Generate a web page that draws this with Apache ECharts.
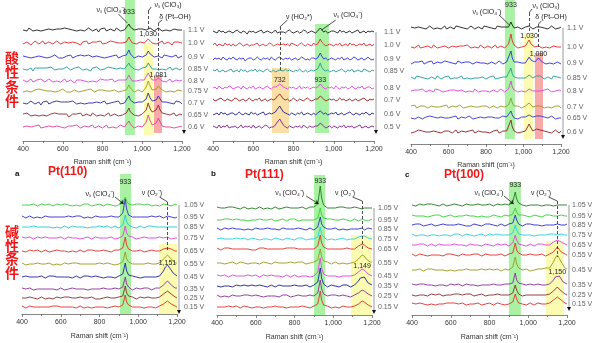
<!DOCTYPE html>
<html><head><meta charset="utf-8">
<script src="https://cdn.jsdelivr.net/npm/echarts@6/dist/echarts.min.js"></script>
<style>html,body{margin:0;padding:0;background:#fff}#c{width:600px;height:343px}</style>
</head><body><div id="c"></div><script>
// Raman shift sampling: 400–1200 cm-1 in 10 cm-1 steps; band centres replace the nearest sample.
const shiftStart = 400, shiftStep = 10, shiftCount = 81;
const xTicks = [400, 600, 800, 1000, 1200];

// ---------- Acidic, Pt(110) ----------
const acid110Potentials = ['1.1 V', '1.0 V', '0.9 V', '0.85 V', '0.8 V', '0.75 V', '0.7 V', '0.65 V', '0.6 V'];
const acid110Peaks = [933, 1030, 1081];
const acid110Spectra = [
  [0,1,-1,2,0,-1,1,0,2,-1, 1,0,-2,1,2,0,-1,1,0,1, -1,2,0,1,-1,0,2,-1,1,0, 1,-1,0,2,1,-1,0,1,-2,1, 0,2,-1,0,1,1,-1,2,0,-1, 1,0,1,6,3,1,0,-1,1,0, 1,-1,0,1,2,0,-1,1,2,0, -1,1,0,2,-1,0,1,-1,0,1, 0],
  [-1,0,1,1,-2,0,2,1,-1,0, 2,-1,0,1,0,-1,1,2,0,-1, 0,1,-1,0,2,1,-1,0,1,-2, 1,0,2,-1,0,1,-1,1,0,2, -1,1,0,-1,2,0,1,-1,0,1, 0,1,1,6,3,0,1,-1,0,1, -1,0,2,4,2,0,1,-1,0,1, 2,-1,0,1,0,-2,1,0,1,-1, 0],
  [1,-1,0,2,-1,1,0,-2,1,0, 0,2,-1,1,0,-1,2,0,-1,1, -1,0,1,0,2,-1,0,1,-1,2, 0,1,-1,2,0,0,-2,1,1,0, 2,-1,1,0,-1,1,0,2,-1,0, 1,0,2,7,3,1,-1,0,1,-1, 0,1,2,6,3,1,0,-1,1,0, -1,2,0,1,-1,0,1,2,-1,0, 1],
  [0,2,-1,0,1,-2,1,0,1,-1, 1,0,1,-1,2,0,-1,1,0,2, 0,-1,2,1,-1,0,1,-1,2,0, -1,1,0,1,-2,1,0,2,0,-1, 1,0,-1,2,0,1,-1,0,1,1, -1,0,1,6,3,1,0,1,-1,0, 1,-1,2,6,3,0,1,0,-1,1, 0,1,-1,0,2,-1,0,1,0,-1, 1],
  [1,0,-1,1,2,-1,0,1,-1,2, 0,-1,1,2,0,-1,1,0,2,-1, 1,2,-1,0,1,0,-2,1,0,1, -1,0,2,-1,1,0,1,-1,0,2, 0,1,-1,1,0,2,-1,0,1,-1, 1,-1,1,6,3,0,1,0,-1,1, 0,1,3,8,4,1,0,1,3,2, 0,1,-1,0,2,-1,0,1,-1,0, 1],
  [-1,1,0,2,-1,0,1,-1,2,0, 1,-1,0,1,0,2,-1,1,0,-1, 2,0,-1,1,-1,0,1,2,-1,0, 0,1,1,-1,2,0,-1,0,1,-1, 1,-1,0,2,0,-1,1,0,-1,1, 0,1,1,6,3,1,-1,0,1,0, -1,1,4,10,5,1,1,2,5,3, 1,0,-1,1,0,2,-1,0,1,-1, 0],
  [0,1,-1,0,2,1,-1,0,1,-2, 1,0,2,-1,0,1,-1,2,0,1, -1,1,0,1,-1,2,0,-1,1,0, 2,-1,1,0,-1,0,2,1,-1,0, 0,2,-1,1,0,-1,1,0,2,-1, 1,0,2,7,3,1,0,-1,1,0, 1,1,4,10,5,2,1,3,7,4, 1,0,1,-1,0,1,-1,2,0,1, -1],
  [1,-1,2,0,-1,1,0,1,-1,0, 0,2,-1,0,1,-1,2,0,1,-1, 1,0,1,-2,0,1,-1,1,0,2, -1,0,1,1,-1,2,0,-1,1,0, 1,-1,0,2,-1,0,1,1,-1,0, 0,1,2,7,3,1,0,1,-1,0, 1,2,5,12,6,3,2,5,10,5, 2,0,1,-1,0,1,2,-1,0,1, 0],
  [0,-1,1,2,0,-1,1,0,2,-1, 1,0,-1,1,2,0,-1,1,-1,0, 2,-1,0,1,0,1,-1,2,0,-1, 0,1,-1,0,1,2,-1,0,1,1, -1,0,2,-1,1,0,1,-1,0,2, 1,0,1,6,3,1,-1,0,1,0, 0,2,5,12,6,2,1,4,9,5, 1,-1,0,1,0,2,-1,1,0,-1, 1]
];
const acid110Colors = ['#1a1a1a', '#e8262a', '#2b2bd9', '#1f9a9a', '#e040e0', '#9a9a1a', '#2a2aa0', '#8b2a2a', '#e0409a'];

// ---------- Acidic, Pt(111) ----------
const acid111Potentials = ['1.1 V', '1.0 V', '0.9 V', '0.85 V', '0.8 V', '0.7 V', '0.6 V', '0.5 V'];
const acid111Peaks = [732, 933];
const acid111Spectra = [
  [1,0,-1,2,0,1,-1,0,1,0, -1,1,2,0,-1,1,0,-2,1,0, 1,-1,0,1,2,-1,0,1,0,-1, 0,2,-1,0,1,0,-1,1,2,0, -1,0,1,-1,0,2,1,-1,0,1, 0,-1,1,4,2,0,1,-1,0,1, 1,0,-1,2,0,1,-1,0,1,-1, 0,1,2,-1,0,1,-1,1,0,1, 0],
  [0,2,-1,1,0,-1,2,0,1,-1, 1,-1,0,2,1,-1,0,1,-1,0, 0,1,2,-1,0,1,-1,0,2,1, -1,0,1,0,-2,1,0,1,-1,2, 1,0,-1,1,2,0,-1,1,0,-1, 2,0,1,6,3,1,-1,0,1,0, -1,1,0,2,-1,0,1,-1,2,0, 1,-1,0,1,0,2,-1,0,1,-1, 1],
  [-1,1,0,1,-1,2,0,-1,1,0, 2,0,-1,1,0,1,-2,0,1,1, -1,0,2,0,-1,1,0,1,-1,2, 0,-1,1,2,0,-1,1,0,1,-1, 0,1,-1,0,2,1,-1,0,-1,1, 1,0,1,6,3,0,1,-1,0,1, 0,-1,1,0,2,-1,0,1,-1,0, 2,1,-1,0,1,-1,0,2,0,-1, 0],
  [1,0,2,-1,0,1,-1,0,1,2, -1,0,1,-1,2,0,1,-1,0,1, 0,2,-1,1,0,-1,1,2,0,-1, 1,-1,0,1,-1,0,2,0,1,0, -1,1,0,2,0,-1,1,-1,0,1, 0,1,2,8,4,1,0,1,-1,0, 1,-1,0,1,2,0,-1,1,0,2, -1,0,1,0,-1,2,1,0,-1,1, 0],
  [0,1,-1,2,0,-1,1,0,2,1, -1,0,1,1,-1,2,0,-1,1,0, 2,-1,0,1,0,-1,1,2,0,-1, 1,1,2,4,3,1,0,-1,1,0, 1,-1,0,2,-1,1,0,1,-1,0, 1,0,1,4,2,0,-1,1,0,1, -1,2,0,-1,1,0,1,-1,0,2, 0,-1,1,0,2,-1,0,1,1,-1, 0],
  [1,-1,0,1,2,0,-1,1,0,-1, 0,2,1,-1,0,1,-1,0,2,0, -1,1,0,2,-1,0,1,-1,0,1, 0,1,4,6,4,1,0,1,-1,0, 2,0,-1,1,0,-1,1,2,0,-1, 0,1,1,4,2,1,-1,0,1,0, 1,-1,0,2,0,1,-1,0,1,-1, 0,1,-1,0,1,2,0,-1,1,0, 1],
  [-1,0,1,-1,2,0,1,-1,0,1, 1,-1,0,2,0,-1,1,0,-1,2, 0,1,-1,0,1,2,-1,0,1,0, 1,2,5,8,5,2,1,0,-1,1, 0,-1,1,0,2,-1,0,1,0,-1, 1,-1,1,3,2,0,1,-1,0,1, 0,2,-1,0,1,-1,0,1,2,0, -1,1,0,-1,1,0,2,0,-1,1, 0],
  [1,0,-1,2,-1,1,0,2,-1,0, 0,1,-1,0,2,-1,1,0,1,-1, 2,-1,0,1,-1,0,2,1,-1,0, 0,2,5,8,5,2,0,-1,1,0, -1,1,0,1,-1,2,0,-1,1,0, 0,1,1,4,2,1,-1,0,1,-1, 1,0,-1,1,0,2,-1,1,0,1, -1,0,1,2,-1,0,1,-1,0,1, 0]
];
const acid111Colors = ['#1a1a1a', '#e8262a', '#2b2bd9', '#1f9a9a', '#e040e0', '#a01818', '#1c1c8c', '#7a1a8a'];

// ---------- Acidic, Pt(100) ----------
const acid100Potentials = ['1.1 V', '1.0 V', '0.9 V', '0.85 V', '0.8 V', '0.7 V', '0.65 V', '0.6 V'];
const acid100Peaks = [933, 1030, 1080];
const acid100Spectra = [
  [1,-1,0,2,1,-1,0,1,-1,0, 2,0,-1,1,0,1,-1,0,2,-1, 0,1,0,-1,2,0,1,-1,0,1, -1,0,2,1,-1,0,1,0,-1,2, 0,1,-1,0,1,-1,2,0,1,-1, 1,0,1,6,3,0,-1,1,0,-1, 0,1,0,2,1,-1,0,1,0,1, -1,0,1,-1,0,2,0,-1,1,0, 1],
  [0,1,-1,0,2,-1,1,0,-1,1, 1,-1,2,0,-1,1,0,-2,1,0, -1,0,1,2,0,-1,1,0,1,-1, 2,0,-1,1,0,1,-1,2,0,-1, 0,1,1,-1,0,2,-1,0,1,0, -1,1,3,13,6,2,0,-1,1,0, 1,1,3,7,3,1,0,-1,1,0, -1,1,0,2,-1,0,1,-1,0,1, 0],
  [-1,0,1,-1,1,0,2,-1,0,1, 0,2,-1,0,1,-1,0,1,2,0, 1,-1,0,1,-1,2,0,0,-1,1, 0,1,2,-1,0,1,-1,0,1,0, 2,-1,0,1,0,-1,1,2,0,-1, 0,1,3,12,5,1,0,1,-1,0, 1,0,2,6,3,1,1,3,5,3, 1,0,-1,1,0,1,-1,0,1,0, -1],
  [1,0,-1,2,0,1,-1,0,1,-1, 0,1,0,-1,2,1,-1,0,1,0, 2,-1,1,0,-1,0,1,2,-1,0, 0,1,-1,1,0,2,0,-1,1,1, -1,0,1,0,2,-1,1,0,-1,1, 0,1,2,10,4,1,-1,0,1,0, 1,0,1,3,2,0,1,2,4,2, 1,-1,0,1,0,-1,2,0,1,-1, 0],
  [0,-1,1,0,1,-1,2,0,-1,1, 1,0,-1,2,0,1,0,-1,1,0, -1,1,0,1,-1,0,2,1,0,-1, 1,0,1,-1,2,0,-1,1,0,1, 0,2,-1,0,1,0,-1,1,2,0, -1,0,2,10,4,1,0,-1,1,0, 1,-1,1,2,1,0,1,0,1,0, -1,1,0,2,0,-1,1,0,-1,1, 0],
  [1,0,2,-1,0,1,-1,1,0,-1, 0,1,-1,0,2,0,-1,1,0,2, -1,0,1,-1,0,1,2,0,-1,1, 0,-1,1,2,0,-1,0,1,1,-1, 1,0,-1,0,1,2,-1,0,1,0, 0,-1,2,9,4,1,0,1,0,-1, 0,1,2,4,2,0,1,1,2,1, 0,-1,1,0,2,-1,0,1,0,1, -1],
  [0,1,-1,0,1,2,-1,0,1,-1, 2,0,1,-1,0,-1,1,2,0,1, 0,-1,1,0,2,-1,0,1,-1,0, 1,2,0,-1,1,0,-1,1,2,0, -1,1,0,1,-1,0,1,0,-1,2, 0,1,2,7,3,0,1,-1,0,1, 0,1,1,3,2,1,1,2,4,2, 0,1,-1,0,1,2,0,-1,1,0, 0],
  [-1,1,0,-1,2,0,1,-1,0,1, 0,-1,1,1,0,2,-1,0,1,-1, 1,0,-1,0,2,-1,0,1,1,0, -1,1,0,2,-1,0,1,-1,0,2, 0,1,-1,0,1,0,2,-1,0,1, -1,1,3,12,5,1,0,-1,1,0, 0,1,3,8,4,1,1,3,5,2, 0,1,-1,0,1,-1,0,2,0,-1, 1]
];
const acid100Colors = ['#1a1a1a', '#e8262a', '#2b2bd9', '#1f9a9a', '#e040e0', '#9a9a1a', '#3434c8', '#8b2020'];

// ---------- Alkaline, Pt(110) ----------
const alk110Potentials = ['1.05 V', '0.95 V', '0.85 V', '0.75 V', '0.65 V', '0.55 V', '0.45 V', '0.35 V', '0.25 V', '0.15 V'];
const alk110Peaks = [933, 1151];
const alk110Spectra = [
  [0,1,0,-1,0,1,1,0,-1,0, 1,0,0,-1,1,0,-1,0,1,0, 0,-1,1,0,0,1,-1,0,0,1, -1,0,1,0,1,0,-1,1,0,0, 1,0,-1,0,1,0,0,1,-1,0, 0,0,2,8,4,1,0,0,-1,1, 0,1,-1,0,0,1,0,-1,1,0, 0,-1,0,1,0,0,1,-1,0,1, 0],
  [1,0,-1,0,1,0,-1,1,0,0, -1,0,1,1,0,-1,0,1,0,-1, 0,1,0,-1,1,0,0,-1,1,0, 1,0,-1,0,0,1,-1,0,1,0, 0,-1,0,1,0,-1,1,0,0,1, 0,1,4,18,8,2,1,0,-1,0, 1,0,-1,0,1,0,0,1,-1,0, 0,1,0,-1,0,1,0,0,1,-1, 0],
  [0,-1,0,1,0,0,1,-1,0,1, 0,1,0,-1,0,1,-1,0,0,1, -1,0,1,0,-1,0,1,1,0,-1, 0,1,0,0,-1,1,0,-1,0,1, 1,0,0,-1,1,0,-1,0,1,0, -1,1,2,12,5,2,1,0,0,-1, 0,1,0,-1,0,1,0,1,-1,0, 1,0,-1,0,1,0,-1,0,1,0, 0],
  [1,0,0,-1,1,0,-1,0,1,0, 0,-1,1,0,0,1,0,-1,0,1, 1,0,-1,0,1,-1,0,1,0,0, -1,1,0,0,1,0,-1,0,1,-1, 0,1,0,-1,0,1,1,0,-1,0, 0,1,2,12,5,2,0,1,0,-1, 1,0,0,1,-1,0,1,0,-1,0, 0,1,-1,0,0,1,0,-1,1,0, 0],
  [0,1,-1,0,1,0,0,-1,1,0, -1,0,1,0,-1,1,0,0,1,-1, 0,1,0,1,-1,0,0,1,-1,0, 1,0,-1,0,1,0,1,-1,0,0, 0,-1,1,0,0,1,-1,0,1,0, 1,1,3,14,6,2,1,0,-1,0, 0,1,0,-1,1,0,0,1,-1,0, 1,0,1,2,2,3,3,2,1,0, 0],
  [1,0,-1,0,0,1,0,-1,1,0, 0,1,0,-1,1,0,-1,0,0,1, -1,0,1,0,0,-1,1,0,1,0, 0,-1,0,1,0,1,0,-1,0,1, 1,0,0,-1,1,0,0,1,-1,0, 0,1,2,12,5,2,1,0,1,0, -1,0,1,0,0,1,-1,0,1,0, 0,1,2,5,7,9,8,5,3,1, 1],
  [0,0,1,-1,0,1,0,-1,0,1, 1,0,-1,0,1,0,1,-1,0,0, 0,1,0,-1,0,1,-1,0,1,0, -1,0,1,0,1,-1,0,0,1,0, 0,1,-1,0,0,1,0,1,-1,0, 1,1,3,14,6,2,0,1,-1,0, 0,-1,1,0,1,0,-1,0,1,0, 1,1,3,6,10,12,10,7,4,2, 1],
  [1,-1,0,0,1,0,-1,1,0,0, 0,1,0,-1,0,1,0,0,-1,1, 1,0,-1,1,0,0,1,-1,0,0, 0,1,0,0,-1,1,0,1,0,-1, 0,0,1,-1,0,1,0,-1,1,0, 0,1,2,12,5,2,1,-1,0,1, 0,0,-1,1,0,1,0,-1,0,1, 0,1,2,4,6,8,7,4,2,1, 1],
  [0,1,0,-1,1,0,0,1,-1,0, 1,0,-1,0,0,1,-1,0,1,0, 0,-1,1,0,1,0,0,-1,0,1, 1,0,0,-1,0,1,1,0,-1,0, -1,1,0,0,1,-1,0,1,0,0, 1,0,2,12,5,2,0,1,0,-1, 0,1,0,0,-1,1,0,0,1,0, 0,1,2,4,6,7,6,4,2,1, 0],
  [1,0,-1,0,1,1,0,-1,0,1, 0,-1,0,1,0,0,1,-1,1,0, 0,1,0,-1,0,1,0,0,-1,1, 1,0,-1,1,0,0,-1,1,0,0, 0,1,0,0,-1,1,0,-1,1,0, 0,1,2,12,5,2,1,0,-1,0, 1,0,0,-1,1,0,1,0,0,-1, 0,1,2,3,5,6,5,3,2,1, 0]
];
const alk110Colors = ['#3cc83c', '#3030c8', '#22c8d8', '#e040e0', '#e0302a', '#9a9a1a', '#2020a0', '#8a2a9a', '#8b2a2a', '#e0302a'];

// ---------- Alkaline, Pt(111) ----------
const alk111Potentials = ['1.05 V', '0.95 V', '0.85 V', '0.75 V', '0.65 V', '0.55 V', '0.45 V', '0.35 V', '0.25 V', '0.15 V'];
const alk111Peaks = [933, 1149];
const alk111Spectra = [
  [1,-1,0,1,0,-1,1,0,1,-1, 0,1,-1,0,1,0,-1,1,0,1, -1,0,1,0,-1,1,0,1,-1,0, 1,0,-1,1,0,0,1,-1,0,1, 0,1,0,-1,1,0,-1,0,1,0, 1,1,4,22,10,3,1,0,-1,0, 1,0,-1,1,0,1,-1,0,1,0, -1,1,0,0,1,-1,0,1,0,-1, 0],
  [0,1,0,-1,1,0,1,-1,0,0, 1,-1,0,1,0,0,-1,1,0,1, 0,0,1,-1,0,1,0,-1,1,0, -1,1,0,0,1,0,-1,0,1,0, 1,0,-1,1,0,-1,0,1,0,-1, 0,1,2,12,5,2,0,1,0,1, -1,0,1,0,-1,1,0,0,1,-1, 0,1,0,-1,0,1,0,1,-1,0, 1],
  [1,0,-1,0,1,0,0,-1,1,0, 0,1,0,0,-1,1,0,1,-1,0, 1,-1,0,1,0,0,1,-1,0,0, 0,1,-1,0,1,0,0,1,0,-1, 0,0,1,-1,0,1,-1,0,1,0, -1,1,2,12,5,2,1,0,-1,0, 0,1,0,-1,1,0,1,-1,0,0, 1,0,-1,0,0,1,-1,0,1,0, 0],
  [0,-1,1,0,0,1,0,-1,0,1, 1,0,0,-1,1,0,-1,0,1,0, 0,1,-1,0,0,1,0,1,-1,0, 1,0,0,1,-1,0,1,0,0,-1, -1,0,1,0,1,0,-1,1,0,0, 0,1,2,12,5,2,0,-1,1,0, 0,-1,1,0,0,1,0,-1,1,0, 0,0,1,2,2,3,3,2,1,0, 0],
  [1,0,-1,0,1,0,1,-1,0,0, 0,1,0,-1,0,1,0,0,-1,1, -1,0,1,0,1,-1,0,1,0,0, 0,1,0,-1,0,0,1,-1,1,0, 1,-1,0,1,0,1,0,-1,0,1, 0,1,3,14,6,2,1,0,-1,0, 1,0,-1,0,1,0,0,1,-1,0, 0,0,1,3,4,5,4,3,1,1, 0],
  [0,1,0,0,-1,1,0,-1,1,0, -1,0,1,0,0,1,-1,0,0,1, 0,1,-1,0,1,0,0,1,-1,0, 1,0,0,-1,0,1,0,0,1,-1, 0,-1,1,0,1,0,-1,0,0,1, 1,1,3,14,6,2,0,1,0,-1, 0,1,0,-1,1,0,0,-1,1,0, 0,1,2,4,6,8,7,4,2,1, 1],
  [1,0,0,-1,1,0,-1,0,1,1, 0,-1,0,1,0,-1,1,0,0,1, 1,0,-1,0,1,0,0,-1,1,0, 0,1,0,1,-1,0,1,0,-1,0, 1,0,-1,0,0,1,0,1,-1,0, 0,1,4,18,8,2,1,0,-1,0, 1,0,0,-1,1,0,-1,0,1,0, 0,1,2,4,6,7,6,4,2,1, 0],
  [0,1,-1,0,0,1,0,1,-1,0, 1,0,0,-1,1,0,0,-1,1,0, 0,-1,1,0,0,1,-1,0,1,0, -1,0,1,1,0,-1,0,1,0,0, 1,0,0,-1,0,1,1,0,-1,0, 1,1,4,18,8,2,1,-1,0,1, 0,0,1,-1,0,1,0,1,0,-1, 0,1,3,5,8,10,9,6,3,2, 1],
  [1,0,-1,1,0,0,-1,0,1,0, 0,1,0,-1,1,0,1,-1,0,0, 1,0,0,1,-1,0,0,1,0,-1, 0,1,-1,0,1,0,1,0,-1,0, 0,-1,1,0,0,1,0,-1,1,0, 0,1,3,16,7,2,1,0,-1,1, 0,1,0,0,-1,1,0,0,1,-1, 0,1,2,3,5,6,5,3,2,1, 0],
  [0,1,0,-1,0,1,1,-1,0,0, 1,0,-1,0,1,0,0,1,-1,0, 0,1,0,0,-1,1,0,-1,0,1, 1,-1,0,1,0,0,-1,1,0,0, 0,1,0,-1,1,0,0,1,-1,0, 1,1,3,16,7,2,0,1,0,-1, 0,0,1,-1,0,1,0,0,1,0, -1,1,2,3,5,6,5,3,2,1, 0]
];
const alk111Colors = ['#1e7a1e', '#30d030', '#2b2bd0', '#22d0e0', '#e0302a', '#9a9a1a', '#e040e0', '#1c1c8c', '#8a2a9a', '#e0302a'];

// ---------- Alkaline, Pt(100) ----------
const alk100Potentials = ['1.05 V', '0.95 V', '0.85 V', '0.75 V', '0.65 V', '0.55 V', '0.45 V', '0.35 V', '0.25 V', '0.15 V'];
const alk100Peaks = [933, 1150];
const alk100Spectra = [
  [0,1,-1,0,1,0,0,-1,1,0, 1,0,0,1,-1,0,1,0,-1,0, 0,-1,1,0,0,1,-1,0,1,1, 0,1,0,-1,1,0,0,1,0,-1, 1,0,-1,0,1,-1,0,0,1,0, 0,1,3,13,6,2,1,0,0,-1, 1,0,-1,0,1,0,1,-1,0,0, 1,0,0,-1,1,0,-1,0,1,0, 0],
  [1,0,0,-1,0,1,0,1,-1,0, 0,-1,1,0,1,0,-1,0,0,1, 1,0,-1,0,0,1,0,-1,1,0, 0,1,0,1,-1,0,0,1,-1,0, -1,0,1,0,0,1,-1,0,1,0, 0,0,2,8,4,1,0,1,-1,0, 1,-1,0,1,0,0,1,-1,0,1, 0,1,-1,0,1,0,0,1,-1,0, 0],
  [0,-1,1,0,1,0,-1,0,0,1, 1,0,-1,1,0,0,1,-1,0,0, 0,1,0,-1,1,0,0,1,-1,0, -1,0,1,0,0,1,-1,0,1,0, 1,0,0,1,-1,0,1,0,-1,0, 1,1,2,10,5,1,0,-1,0,1, 0,1,-1,0,1,0,0,-1,1,0, -1,0,1,0,0,1,-1,0,1,0, 1],
  [1,0,-1,0,0,1,0,1,-1,0, 0,1,0,0,-1,1,0,-1,0,1, -1,0,1,0,1,0,-1,0,1,0, 0,1,-1,1,0,0,1,0,-1,0, 1,0,0,-1,1,0,0,1,0,-1, 0,1,2,10,5,1,1,0,-1,0, 1,0,0,-1,1,0,1,0,-1,0, 0,1,0,1,-1,0,0,1,0,0, 0],
  [0,1,0,-1,1,0,1,0,-1,0, 1,0,-1,0,1,1,0,-1,0,0, 0,-1,1,0,0,1,0,1,-1,0, 1,0,0,-1,0,1,-1,0,1,0, 0,1,-1,0,1,0,0,-1,1,0, -1,1,2,10,5,1,0,0,1,-1, 0,1,0,-1,0,1,0,1,-1,0, 0,0,1,3,4,5,4,3,1,1, 0],
  [1,0,-1,0,1,0,0,1,-1,0, 0,1,0,-1,0,1,-1,0,1,0, 1,0,0,1,-1,0,1,0,0,-1, 0,-1,1,0,1,0,-1,0,1,0, 0,1,0,-1,0,1,1,0,-1,0, 1,1,2,12,5,2,1,0,-1,0, 0,1,-1,0,1,0,0,1,0,-1, 0,1,2,3,5,8,6,3,1,1, 0],
  [0,1,0,-1,1,0,-1,0,1,0, 1,0,0,-1,0,1,0,1,-1,0, 0,1,-1,0,0,1,0,-1,1,1, 0,-1,0,1,0,0,1,-1,0,1, 1,0,0,-1,1,0,-1,0,1,0, 0,1,3,13,6,2,1,0,0,1, 0,-1,1,0,0,1,0,1,1,2, 1,2,4,8,12,15,13,8,5,2, 1],
  [1,0,0,-1,1,0,1,-1,0,0, 0,1,-1,0,0,1,0,0,-1,1, 1,0,0,-1,1,0,-1,0,1,0, 0,1,0,1,-1,0,0,1,0,-1, 0,0,1,-1,0,1,0,-1,1,0, 1,1,2,12,5,2,0,1,-1,0, 0,1,0,0,-1,1,0,0,1,0, 0,1,3,5,8,10,9,6,3,2, 1],
  [0,1,-1,0,0,1,0,1,-1,0, 1,0,0,-1,1,0,-1,0,0,1, 0,-1,1,0,1,0,0,-1,1,0, 1,0,-1,0,0,1,1,0,-1,0, 0,1,0,-1,1,0,0,1,0,-1, 0,1,2,10,5,1,0,-1,1,0, 1,0,-1,0,1,0,1,0,-1,0, 0,1,2,4,6,8,7,4,2,1, 0],
  [1,0,0,-1,1,0,0,1,-1,0, 0,1,-1,0,0,1,0,-1,1,0, 1,0,1,-1,0,0,1,0,-1,0, 0,-1,0,1,1,0,-1,0,0,1, 1,0,-1,0,1,0,0,1,-1,0, 0,1,2,10,5,1,1,0,0,-1, 0,1,0,-1,0,1,0,0,1,0, 0,1,2,4,6,7,6,4,2,1, 0]
];
const alk100Colors = ['#1e7a1e', '#30d030', '#2b2bd0', '#22d0e0', '#e040e0', '#e0302a', '#9a9a1a', '#8a2a9a', '#8b2a2a', '#e0302a'];

// ---------- Layout: plot boxes (px) and vertical stacking offsets (px above the axis) ----------
const panelLayout = [
  { left: 23,  top: 0,   width: 159, height: 141, offsets: [111, 98, 84, 72, 60, 50, 38, 26, 14], labelGap: 6 },
  { left: 213, top: 0,   width: 161, height: 141, offsets: [109, 96, 82, 70, 53, 41, 27, 14], labelGap: 10 },
  { left: 411, top: 0,   width: 150, height: 144, offsets: [116, 97, 81, 66, 53, 37, 26, 12], labelGap: 6 },
  { left: 22,  top: 172, width: 155, height: 142, offsets: [109, 97, 87, 76, 63, 50, 37, 25, 16, 7], labelGap: 7 },
  { left: 217, top: 172, width: 155, height: 143, offsets: [107, 95, 86, 76, 66, 52, 39, 29, 19, 8], labelGap: 6 },
  { left: 412, top: 172, width: 155, height: 143, offsets: [110, 99, 90, 80, 70, 60, 45, 30, 20, 11], labelGap: 5 }
];

const GREEN = '#a9f2a4', YELLOW = '#fcfbb2', RED = '#f7aaa8', ORANGE = '#fadfa6';
const fmt = v => v.toLocaleString('en-US');
const ClO4 = 'νₛ (ClO₄⁻)';

// Highlight bands, annotation texts and guide lines (x in cm-1, y in px above the axis)
const panelDecor = [
  { bands: [[913, 963, 6, 141, GREEN], [1008, 1054, 6, 98, YELLOW], [1059, 1099, 8, 66, RED]],
    texts: [[843, 131, ClO4], [acid110Peaks[0], 129, fmt(acid110Peaks[0])], [1130, 136, 'νₛ (ClO₃)'], [1165, 124, 'δ (Pt–OH)'],
            [acid110Peaks[1], 107, fmt(acid110Peaks[1])], [acid110Peaks[2], 66, fmt(acid110Peaks[2])]],
    lines: [[880, 127, 925, 118, 0], [1045, 134, acid110Peaks[1], 130, 0], [acid110Peaks[1], 130, acid110Peaks[1], 111, 1],
            [1100, 121, acid110Peaks[2], 118, 0], [acid110Peaks[2], 118, acid110Peaks[2], 71, 1]] },
  { bands: [[693, 778, 8, 73, ORANGE], [907, 976, 8, 117, GREEN]],
    texts: [[827, 124, 'ν (HO₂*)'], [1071, 126, ClO4], [acid111Peaks[0], 61, fmt(acid111Peaks[0])], [acid111Peaks[1], 61, fmt(acid111Peaks[1])]],
    lines: [[770, 121, acid111Peaks[0], 114, 0], [acid111Peaks[0], 114, acid111Peaks[0], 69, 1], [1010, 121, 940, 111, 0]] },
  { bands: [[901, 954, 5, 144, GREEN], [1003, 1051, 5, 111, YELLOW], [1061, 1104, 5, 91, RED]],
    texts: [[acid100Peaks[0], 139, fmt(acid100Peaks[0])], [805, 132, ClO4], [1120, 138, 'νₛ (ClO₃)'], [1147, 127, 'δ (Pt–OH)'],
            [acid100Peaks[1], 108, fmt(acid100Peaks[1])], [acid100Peaks[2], 90, fmt(acid100Peaks[2])]],
    lines: [[870, 129, 925, 119, 0], [1045, 135, acid100Peaks[1], 131, 0], [acid100Peaks[1], 131, acid100Peaks[1], 113, 1],
            [1095, 123, acid100Peaks[2], 120, 0], [acid100Peaks[2], 120, acid100Peaks[2], 95, 1]] },
  { bands: [[906, 963, -3, 140, GREEN], [1107, 1200, -3, 70, YELLOW]],
    texts: [[alk110Peaks[0], 132, fmt(alk110Peaks[0])], [803, 120, ClO4], [1071, 121, 'ν (O₂⁻)'], [alk110Peaks[1], 51, fmt(alk110Peaks[1])]],
    lines: [[880, 117, 925, 110, 2], [1110, 117, alk110Peaks[1], 112, 0], [alk110Peaks[1], 112, alk110Peaks[1], 62, 1]] },
  { bands: [[901, 958, -2, 140, GREEN], [1092, 1195, -2, 80, YELLOW]],
    texts: [[alk111Peaks[0], 134, fmt(alk111Peaks[0])], [775, 122, ClO4], [1061, 122, 'ν (O₂⁻)'], [alk111Peaks[1], 49, fmt(alk111Peaks[1])]],
    lines: [[860, 119, 925, 111, 2], [1100, 118, alk111Peaks[1], 114, 0], [alk111Peaks[1], 114, alk111Peaks[1], 66, 1]] },
  { bands: [[900, 962, -2, 133, GREEN], [1092, 1184, -2, 74, YELLOW]],
    texts: [[alk100Peaks[0], 130, fmt(alk100Peaks[0])], [797, 122, ClO4], [1066, 122, 'ν (O₂⁻)'], [alk100Peaks[1], 43, fmt(alk100Peaks[1])]],
    lines: [[875, 119, 925, 111, 2], [1105, 118, alk100Peaks[1], 114, 0], [alk100Peaks[1], 114, alk100Peaks[1], 58, 1]] }
];

const panelData = [
  [acid110Potentials, acid110Peaks, acid110Spectra, acid110Colors],
  [acid111Potentials, acid111Peaks, acid111Spectra, acid111Colors],
  [acid100Potentials, acid100Peaks, acid100Spectra, acid100Colors],
  [alk110Potentials, alk110Peaks, alk110Spectra, alk110Colors],
  [alk111Potentials, alk111Peaks, alk111Spectra, alk111Colors],
  [alk100Potentials, alk100Peaks, alk100Spectra, alk100Colors]
];

function shiftGrid(peaks) {
  const xs = [];
  for (let i = 0; i < shiftCount; i++) xs.push(shiftStart + shiftStep * i);
  peaks.forEach(p => { xs[Math.round((p - shiftStart) / shiftStep)] = p; });
  return xs;
}

const FONT = 'Liberation Sans, Arial, sans-serif';
const grids = [], xAxes = [], yAxes = [], series = [], graphics = [];

panelLayout.forEach((L, p) => {
  const [pots, peaks, spectra, colors] = panelData[p];
  const D = panelDecor[p];
  const xs = shiftGrid(peaks);
  grids.push({ left: L.left, top: L.top, width: L.width, height: L.height, containLabel: false });
  xAxes.push({
    type: 'value', gridIndex: p, min: 400, max: 1200, interval: 200,
    axisLine: { lineStyle: { color: '#666', width: 0.8 } },
    axisTick: { length: 3, lineStyle: { color: '#666', width: 0.8 } },
    minorTick: { show: true, splitNumber: 2, length: 2, lineStyle: { color: '#666', width: 0.8 } },
    splitLine: { show: false },
    axisLabel: { fontSize: 7, color: '#333', margin: 5, fontFamily: FONT, formatter: v => fmt(v) },
    name: 'Raman shift (cm⁻¹)', nameLocation: 'middle', nameGap: p < 3 ? 18 : 19,
    nameTextStyle: { fontSize: 7, color: '#333', fontFamily: FONT }
  });
  yAxes.push({ type: 'value', gridIndex: p, min: 0, max: L.height, show: false });

  // decoration host: bands, guide lines, annotation texts
  series.push({
    type: 'line', xAxisIndex: p, yAxisIndex: p, data: [], z: 1, silent: true, animation: false,
    markArea: { silent: true, data: D.bands.map(b => [{ xAxis: b[0], yAxis: b[2], itemStyle: { color: b[4], opacity: 1 } }, { xAxis: b[1], yAxis: b[3] }]) }
  });
  series.push({
    type: 'line', xAxisIndex: p, yAxisIndex: p, data: [], z: 5, silent: true, animation: false,
    markLine: {
      silent: true, symbol: 'none', label: { show: false },
      data: D.lines.map(l => [
        { coord: [l[0], l[1]], symbol: 'none', lineStyle: { color: '#222', width: 0.8, type: l[4] === 1 ? [3, 2] : 'solid' } },
        { coord: [l[2], l[3]], symbol: l[4] === 2 ? 'arrow' : 'none', symbolSize: 4 }
      ])
    },
    markPoint: {
      silent: true, symbol: 'circle', symbolSize: 0,
      label: { show: true, position: 'inside', fontSize: 7, color: '#222', fontFamily: FONT },
      data: D.texts.map(t => ({ coord: [t[0], t[1]], label: { formatter: t[2] } }))
    }
  });

  // stacked spectra
  spectra.forEach((ys, k) => {
    series.push({
      type: 'line', name: pots[k], xAxisIndex: p, yAxisIndex: p, z: 3, silent: true, animation: false,
      symbol: 'none', lineStyle: { width: 0.9, color: colors[k] },
      data: xs.map((x, i) => [x, L.offsets[k] + ys[i]])
    });
  });

  // potential labels on the right
  series.push({
    type: 'scatter', xAxisIndex: p, yAxisIndex: p, symbolSize: 0, clip: false, silent: true, animation: false,
    data: pots.map((v, k) => ({ name: v, value: [1200, L.offsets[k]] })),
    label: { show: true, position: 'right', distance: L.labelGap, formatter: '{b}', fontSize: 7, color: '#333', fontFamily: FONT }
  });

  // potential-sweep arrow beside the stack
  const ax = L.left + L.width + 2;
  const y1 = L.top + L.height - L.offsets[0];
  const y2 = L.top + L.height - L.offsets[L.offsets.length - 1] + 3;
  graphics.push({ type: 'line', shape: { x1: ax, y1: y1, x2: ax, y2: y2 }, style: { stroke: '#999', lineWidth: 1 }, silent: true });
  graphics.push({ type: 'polygon', shape: { points: [[ax - 2, y2], [ax + 2, y2], [ax, y2 + 4]] }, style: { fill: '#111' }, silent: true });
});

// condition labels, panel letters and facet titles
graphics.push({ type: 'text', left: 5, top: 50, style: { text: '酸\n性\n条\n件', fill: '#f01818', font: 'bold 14px "Noto Sans CJK SC"', lineHeight: 14.5 }, silent: true });
graphics.push({ type: 'text', left: 5, top: 225, style: { text: '碱\n性\n条\n件', fill: '#f01818', font: 'bold 14px "Noto Sans CJK SC"', lineHeight: 13.5 }, silent: true });
[['a', 15, 170], ['b', 211, 170], ['c', 405, 171]].forEach(t =>
  graphics.push({ type: 'text', left: t[1], top: t[2], style: { text: t[0], fill: '#111', font: 'bold 8px ' + FONT }, silent: true }));
[['Pt(110)', 48, 166], ['Pt(111)', 245, 169], ['Pt(100)', 444, 169]].forEach(t =>
  graphics.push({ type: 'text', left: t[1], top: t[2], style: { text: t[0], fill: '#f01818', font: 'bold 12px ' + FONT }, silent: true }));

const chart = echarts.init(document.getElementById('c'), null, { renderer: 'canvas' });
chart.setOption({
  animation: false,
  backgroundColor: '#fff',
  textStyle: { fontFamily: FONT },
  grid: grids, xAxis: xAxes, yAxis: yAxes, series: series, graphic: graphics
});
</script></body></html>
